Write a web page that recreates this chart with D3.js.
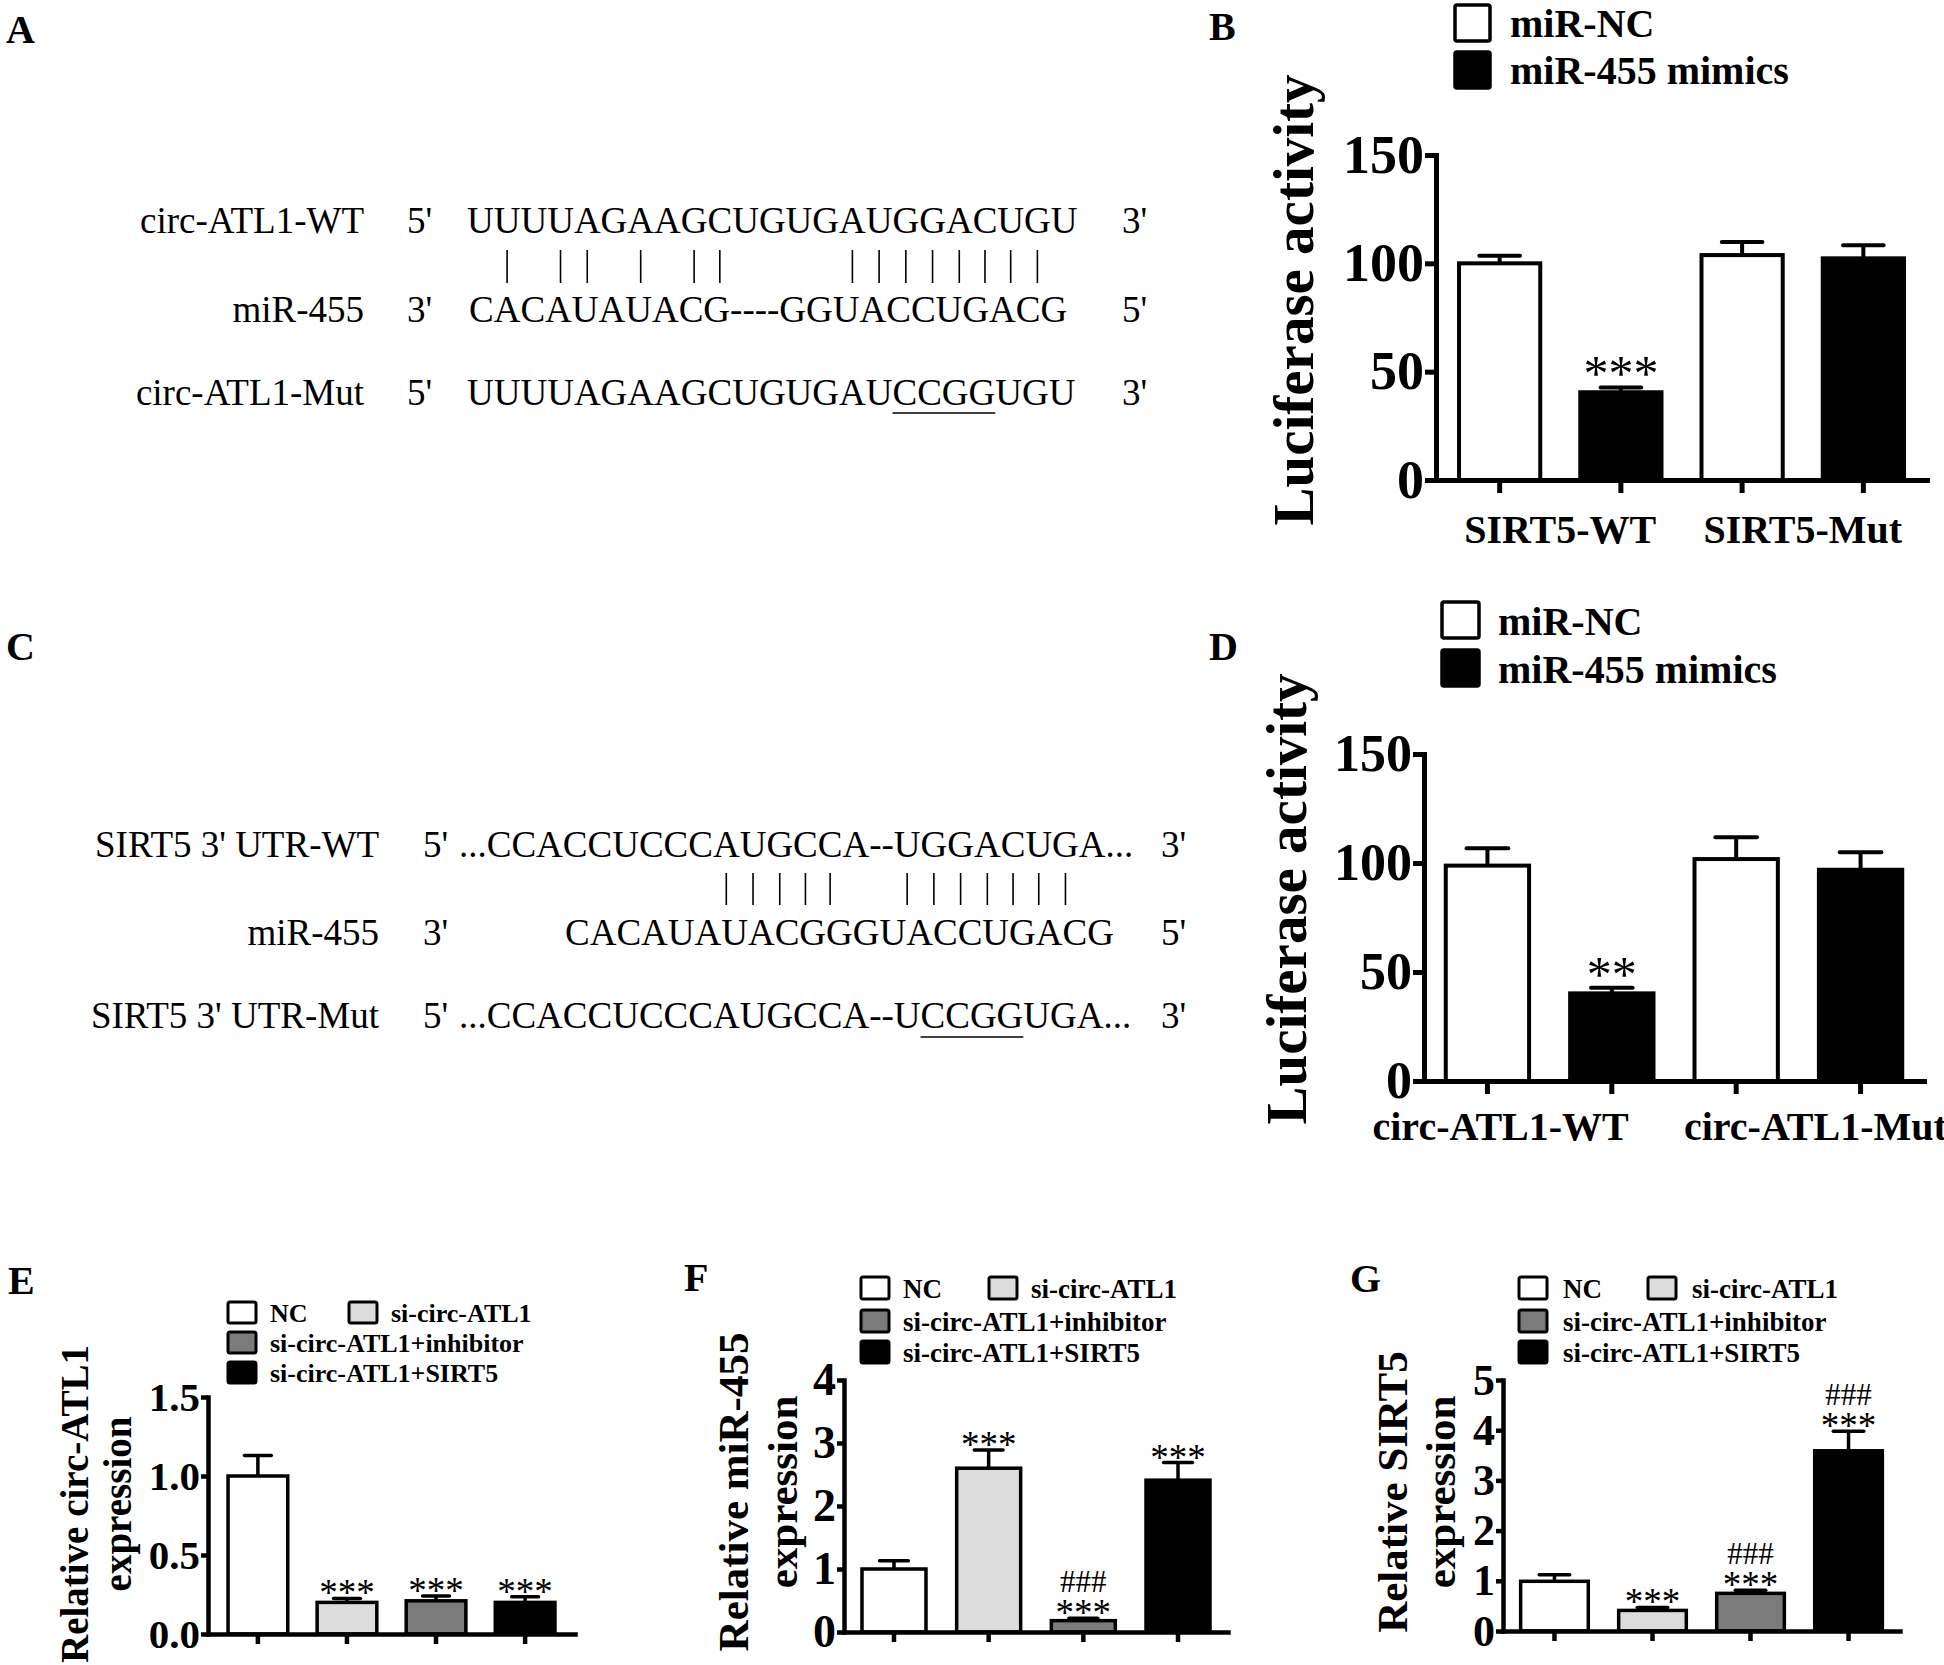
<!DOCTYPE html>
<html>
<head>
<meta charset="utf-8">
<script src="https://cdn.jsdelivr.net/npm/d3@7"></script>
<style>
  body { margin: 0; background: #fff; }
  svg { display: block; }
</style>
</head>
<body>
<svg id="fig" width="1944" height="1665"></svg>
<script>
// ---------------- data ----------------
// panel A : circ-ATL1 / miR-455 pairing
var aLabels = ["circ-ATL1-WT", "miR-455", "circ-ATL1-Mut"];
var aEnd5 = ["5'", "3'", "5'"];
var aSeqs = ["UUUUAGAAGCUGUGAUGGACUGU", "CACAUAUACG----GGUACCUGACG", "UUUUAGAAGCUGUGAUCCGGUGU"];
var aEnd3 = ["3'", "5'", "3'"];
var aPairs = [1, 3, 4, 6, 8, 9, 14, 15, 16, 17, 18, 19, 20, 21];   // char index in WT row
var aMut = [16, 19];                                               // underlined chars in Mut row

// panel C : SIRT5 3'UTR / miR-455 pairing
var cLabels = ["SIRT5 3' UTR-WT", "miR-455", "SIRT5 3' UTR-Mut"];
var cEnd5 = ["5'", "3'", "5'"];
var cSeqs = ["...CCACCUCCCAUGCCA--UGGACUGA...", "CACAUAUACGGGUACCUGACG", "...CCACCUCCCAUGCCA--UCCGGUGA..."];
var cEnd3 = ["3'", "5'", "3'"];
var cPairs = [12, 13, 14, 15, 16, 20, 21, 22, 23, 24, 25, 26];
var cMut = [21, 24];

// panels B and D : luciferase activity
var lucSeries = ["miR-NC", "miR-455 mimics"];
var lucFill = ["#ffffff", "#000000"];
var lucTicks = [0, 50, 100, 150];
var bGroups = ["SIRT5-WT", "SIRT5-Mut"];
var bMean = [[100, 40.5], [103.8, 102.3]];
var bErr = [[3.5, 2.2], [6, 6]];
var bStars = [["", "***"], ["", ""]];
var dGroups = ["circ-ATL1-WT", "circ-ATL1-Mut"];
var dMean = [[98.8, 40.2], [101.8, 96.9]];
var dErr = [[8, 2.6], [10, 8]];
var dStars = [["", "**"], ["", ""]];

// panels E, F, G : relative expression
var grpNames = ["NC", "si-circ-ATL1", "si-circ-ATL1+inhibitor", "si-circ-ATL1+SIRT5"];
var grpFill = ["#ffffff", "#dcdcdc", "#7b7b7b", "#000000"];
var eMean = [1.0, 0.20, 0.21, 0.20];
var eErr = [0.13, 0.025, 0.03, 0.035];
var eStars = ["", "***", "***", "***"];
var eHash = ["", "", "", ""];
var eTicks = [0, 0.5, 1.0, 1.5];
var fMean = [1.0, 2.60, 0.18, 2.41];
var fErr = [0.13, 0.29, 0.04, 0.28];
var fStars = ["", "***", "***", "***"];
var fHash = ["", "", "###", ""];
var fTicks = [0, 1, 2, 3, 4];
var gMean = [0.99, 0.41, 0.75, 3.59];
var gErr = [0.13, 0.06, 0.06, 0.39];
var gStars = ["", "***", "***", "***"];
var gHash = ["", "", "###", "###"];
var gTicks = [0, 1, 2, 3, 4, 5];

// ---------------- drawing ----------------
var FONT = "'Liberation Serif','Times New Roman',Times,serif";
var svg = d3.select("#fig");
svg.append("rect").attr("width", 1944).attr("height", 1665).attr("fill", "#fff");

function txt(x, y, s, size, weight, anchor) {
    return svg.append("text")
        .attr("x", x).attr("y", y)
        .attr("font-family", FONT)
        .attr("font-size", size)
        .attr("font-weight", weight || "normal")
        .attr("text-anchor", anchor || "start")
        .attr("fill", "#000")
        .style("white-space", "pre")
        .text(s);
}

// panel letters
[["A", 6, 43], ["B", 1209, 40], ["C", 6, 660], ["D", 1209, 660],
 ["E", 8, 1294], ["F", 684, 1291], ["G", 1350, 1292]].forEach(function (p) {
    txt(p[1], p[2], p[0], 40, "bold");
});

// sequence alignment panels
function alignment(L, labels, end5, seqs, end3, pairs, mut) {
    var nodes = [];
    for (var i = 0; i < 3; i++) {
        var y = L.rows[i];
        txt(L.labelX, y, labels[i], L.font, "normal", "end");
        txt(L.end5X, y, end5[i], L.font);
        nodes.push(txt(L.seqX[i], y, seqs[i], L.font).node());
        txt(L.end3X, y, end3[i], L.font);
    }
    var top = nodes[0];
    pairs.forEach(function (k) {
        var e = top.getExtentOfChar(k);
        var cx = e.x + e.width / 2;
        svg.append("line")
            .attr("x1", cx).attr("x2", cx)
            .attr("y1", L.pairY[0]).attr("y2", L.pairY[1])
            .attr("stroke", "#000").attr("stroke-width", 1.6);
    });
    var m0 = nodes[2].getExtentOfChar(mut[0]), m1 = nodes[2].getExtentOfChar(mut[1]);
    svg.append("line")
        .attr("x1", m0.x).attr("x2", m1.x + m1.width)
        .attr("y1", L.underY).attr("y2", L.underY)
        .attr("stroke", "#000").attr("stroke-width", 1.6);
}

// bar chart panels
function barChart(L, means, errs, fills, stars, hashes) {
    var g = svg.append("g");
    var n = means.length;
    var x = d3.scaleBand().domain(d3.range(n)).range([L.x0, L.x1])
        .paddingInner(L.pin).paddingOuter(L.pout);
    var y = d3.scaleLinear().domain([0, L.max]).range([L.y0, L.yTop]);
    var bw = x.bandwidth();

    g.selectAll("rect.bar").data(means).join("rect")
        .attr("class", "bar")
        .attr("x", function (d, i) { return x(i); })
        .attr("y", function (d) { return y(d); })
        .attr("width", bw)
        .attr("height", function (d) { return L.y0 - y(d); })
        .attr("fill", function (d, i) { return fills[i]; })
        .attr("stroke", "#000")
        .attr("stroke-width", L.sw);

    means.forEach(function (m, i) {
        var cx = x(i) + bw / 2, top = y(m + errs[i]);
        g.append("line").attr("x1", cx).attr("x2", cx).attr("y1", y(m)).attr("y2", top)
            .attr("stroke", "#000").attr("stroke-width", L.sw);
        g.append("line").attr("x1", cx - bw * L.cap / 2).attr("x2", cx + bw * L.cap / 2)
            .attr("y1", top).attr("y2", top)
            .attr("stroke", "#000").attr("stroke-width", L.sw).attr("stroke-linecap", "round");
        if (stars[i]) txt(cx, top + L.starDy, stars[i], L.starFont, "normal", "middle");
        if (hashes[i]) txt(cx, top + L.starDy - L.hashGap, hashes[i], L.hashFont, "normal", "middle");
    });

    var ya = g.append("g").attr("transform", "translate(" + L.x0 + ",0)")
        .call(d3.axisLeft(y).tickValues(L.ticks).tickFormat(L.fmt)
            .tickSize(L.ytick).tickSizeOuter(0).tickPadding(L.pad));
    ya.select(".domain").attr("stroke-width", L.aw).attr("stroke-linecap", "square");
    ya.selectAll(".tick line").attr("stroke-width", L.aw);
    ya.selectAll(".tick text")
        .attr("font-family", FONT).attr("font-weight", "bold")
        .attr("font-size", L.tickFont).attr("fill", "#000");

    var xa = g.append("g").attr("transform", "translate(0," + L.y0 + ")")
        .call(d3.axisBottom(x).tickSize(L.xtick).tickSizeOuter(0));
    xa.selectAll(".tick text").remove();
    xa.select(".domain").attr("stroke-width", L.aw).attr("stroke-linecap", "square");
    xa.selectAll(".tick line").attr("stroke-width", L.aw);

    L.ylab.forEach(function (t) {
        svg.append("text")
            .attr("transform", "translate(" + t[1] + "," + L.ylabY + ") rotate(-90)")
            .attr("font-family", FONT).attr("font-weight", "bold")
            .attr("font-size", L.ylabFont).attr("text-anchor", "middle")
            .text(t[0]);
    });
    return x;
}

function legend(L, names, fills) {
    names.forEach(function (nm, i) {
        var p = L.slots[i];
        svg.append("rect")
            .attr("x", p[0]).attr("y", p[1])
            .attr("width", L.bw).attr("height", L.bh).attr("rx", 2)
            .attr("fill", fills[i]).attr("stroke", "#000").attr("stroke-width", L.sw);
        txt(p[0] + L.tx, p[1] + L.ty, nm, L.font, "bold");
    });
}

function luciferase(L, groups, mean, err, stars) {
    var flatM = [], flatE = [], flatF = [], flatS = [], flatH = [];
    groups.forEach(function (gname, gi) {
        lucSeries.forEach(function (s, si) {
            flatM.push(mean[gi][si]); flatE.push(err[gi][si]);
            flatF.push(lucFill[si]); flatS.push(stars[gi][si]); flatH.push("");
        });
    });
    var x = barChart(L, flatM, flatE, flatF, flatS, flatH);
    var bw = x.bandwidth();
    groups.forEach(function (gname, gi) {
        var c = (x(2 * gi) + x(2 * gi + 1) + bw) / 2;
        txt(c + L.labDx[gi], L.labY, gname, L.labFont, "bold", "middle");
    });
    legend(L.leg, lucSeries, lucFill);
}

function draw() {
    alignment({
        font: 37, rows: [233, 322, 405], labelX: 364, end5X: 407,
        seqX: [467, 469, 467], end3X: 1122, pairY: [250, 283], underY: 413
    }, aLabels, aEnd5, aSeqs, aEnd3, aPairs, aMut);

    alignment({
        font: 37, rows: [857, 945, 1028], labelX: 379, end5X: 423,
        seqX: [459, 565, 459], end3X: 1161, pairY: [873, 905], underY: 1037
    }, cLabels, cEnd5, cSeqs, cEnd3, cPairs, cMut);

    var lucBase = {
        max: 150, ticks: lucTicks, fmt: d3.format("d"), pin: 0.33,
        sw: 4, aw: 5, cap: 0.5, ytick: 11, xtick: 13, pad: 1, tickFont: 54,
        starFont: 50, starDy: 3, hashGap: 30, hashFont: 36,
        ylabFont: 57, labFont: 40
    };
    luciferase(Object.assign({}, lucBase, {
        x0: 1436, x1: 1927, pout: 0.19, y0: 480, yTop: 155,
        ylab: [["Luciferase activity", 1313]], ylabY: 300,
        labDx: [0, 0], labY: 543,
        leg: { slots: [[1455, 5], [1455, 52]], bw: 35, bh: 36, sw: 3.5, tx: 55, ty: 32, font: 40 }
    }), bGroups, bMean, bErr, bStars);

    luciferase(Object.assign({}, lucBase, {
        x0: 1424, x1: 1924, pout: 0.175, y0: 1081, yTop: 754, tickFont: 52, labFont: 40,
        ylab: [["Luciferase activity", 1306]], ylabY: 899,
        labDx: [-49, 17], labY: 1140,
        leg: { slots: [[1442, 602], [1442, 650]], bw: 37, bh: 36, sw: 3.5, tx: 56, ty: 33, font: 40 }
    }), dGroups, dMean, dErr, dStars);

    var exprBase = {
        pin: 0.33, sw: 3.5, aw: 4.5, cap: 0.45, ytick: 7, xtick: 10, pad: 1,
        starFont: 37, starDy: 7, hashGap: 33, hashFont: 31
    };
    barChart(Object.assign({}, exprBase, {
        x0: 208, x1: 575, pout: 0.225, y0: 1634, yTop: 1397, max: 1.5,
        ticks: eTicks, fmt: d3.format(".1f"), tickFont: 41,
        ylab: [["Relative circ-ATL1", 88], ["expression", 131]], ylabY: 1504, ylabFont: 39
    }), eMean, eErr, grpFill, eStars, eHash);
    legend({
        slots: [[228, 1302], [349, 1302], [228, 1332], [228, 1362]],
        bw: 28, bh: 21, sw: 3, tx: 42, ty: 20, font: 26
    }, grpNames, grpFill);

    barChart(Object.assign({}, exprBase, {
        x0: 844, x1: 1228, pout: 0.19, pin: 0.324, y0: 1632, yTop: 1380, max: 4,
        ticks: fTicks, fmt: d3.format("d"), tickFont: 46,
        ylab: [["Relative miR-455", 748], ["expression", 797]], ylabY: 1492, ylabFont: 43
    }), fMean, fErr, grpFill, fStars, fHash);
    legend({
        slots: [[861, 1277], [989, 1277], [861, 1310], [861, 1341]],
        bw: 28, bh: 22, sw: 3, tx: 42, ty: 21, font: 27
    }, grpNames, grpFill);

    barChart(Object.assign({}, exprBase, {
        x0: 1503, x1: 1900, pout: 0.18, pin: 0.31, y0: 1631, yTop: 1380, max: 5,
        ticks: gTicks, fmt: d3.format("d"), tickFont: 44,
        ylab: [["Relative SIRT5", 1407], ["expression", 1455]], ylabY: 1492, ylabFont: 43
    }), gMean, gErr, grpFill, gStars, gHash);
    legend({
        slots: [[1519, 1277], [1648, 1277], [1519, 1310], [1519, 1341]],
        bw: 28, bh: 22, sw: 3, tx: 44, ty: 21, font: 27
    }, grpNames, grpFill);
}

if (document.fonts && document.fonts.ready) {
    document.fonts.ready.then(draw);
} else {
    draw();
}
</script>
</body>
</html>
